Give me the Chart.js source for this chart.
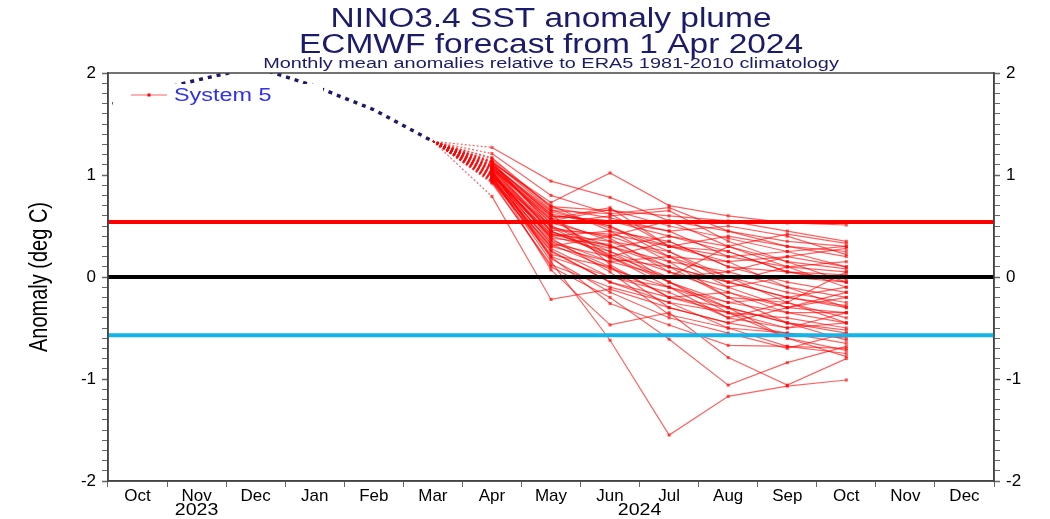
<!DOCTYPE html>
<html>
<head>
<meta charset="utf-8">
<title>NINO3.4 SST anomaly plume</title>
<script src="https://cdn.jsdelivr.net/npm/chart.js@4.4.1/dist/chart.umd.min.js"></script>
<style>
  body { margin: 0; background: #fff; }
  canvas { display: block; }
</style>
</head>
<body>
<canvas id="plume" width="1050" height="519"></canvas>
<script>
"use strict";

// x = month index, 0 = Oct 2023 ... 14 = Dec 2024
const monthLabels = ["Oct", "Nov", "Dec", "Jan", "Feb", "Mar", "Apr", "May", "Jun", "Jul", "Aug", "Sep", "Oct", "Nov", "Dec"];
const yearLabels = ["2023", "2024"];
const yearCentres = [1, 8.5];

const titleLines = ["NINO3.4 SST anomaly plume", "ECMWF forecast from 1 Apr 2024"];
const subTitle = "Monthly mean anomalies relative to ERA5 1981-2010 climatology";
const seriesName = "System 5";

// observed anomalies, Sep 2023 .. Mar 2024
const observedMonths = [-1, 0, 1, 2, 3, 4, 5];
const observedValues = [1.58, 1.78, 1.93, 2.06, 1.87, 1.64, 1.33];

// ensemble members start from the last observed month (Mar) and run Apr .. Oct
const forecastMonths = [5, 6, 7, 8, 9, 10, 11, 12];
const members = [
  [1.27, 0.94, 0.78, 0.55, 0.45, 0.30, 0.25],
  [1.21, 0.80, 0.62, 0.30, 0.20, 0.10, 0.05],
  [0.79, -0.22, -0.12, -0.30, -0.45, -0.55, -0.60],
  [1.12, 0.73, 1.02, 0.70, 0.60, 0.53, 0.51],
  [1.10, 0.65, 0.62, 0.68, 0.45, 0.35, 0.30],
  [1.05, 0.60, 0.55, 0.40, 0.30, 0.42, 0.33],
  [1.08, 0.55, 0.66, 0.50, 0.38, 0.25, 0.10],
  [0.98, 0.50, 0.30, 0.10, -0.05, -0.20, -0.30],
  [1.02, 0.45, 0.20, -0.10, -0.30, -0.45, -0.55],
  [1.13, 0.70, 0.45, 0.35, 0.10, 0.05, -0.05],
  [0.95, 0.35, 0.10, -0.20, -0.35, -0.40, -0.50],
  [1.00, 0.40, 0.25, 0.05, -0.15, -0.30, -0.35],
  [1.07, 0.62, 0.50, 0.20, 0.15, 0.20, 0.28],
  [0.93, 0.25, -0.05, -0.25, -0.50, -0.68, -0.75],
  [1.04, 0.48, 0.40, 0.55, 0.30, 0.10, -0.10],
  [1.16, 0.68, 0.58, 0.45, 0.50, 0.40, 0.22],
  [0.97, 0.30, 0.15, 0.00, 0.05, -0.10, -0.20],
  [1.01, 0.42, 0.35, 0.25, 0.00, -0.15, -0.25],
  [1.09, 0.58, 0.20, -0.05, -0.25, -0.35, -0.45],
  [0.96, 0.20, -0.26, -0.47, -0.67, -0.68, -0.70],
  [1.03, 0.38, 0.05, -0.37, -0.50, -0.55, -0.65],
  [1.11, 0.52, 0.60, 0.65, 0.35, 0.15, 0.08],
  [0.99, 0.15, -0.62, -1.55, -1.17, -1.07, -1.01],
  [1.06, 0.44, 0.30, 0.15, -0.20, -0.45, -0.62],
  [0.94, 0.10, -0.20, -0.61, -1.06, -0.84, -0.68],
  [1.14, 0.66, 0.48, 0.30, 0.25, 0.05, 0.02],
  [1.00, 0.07, -0.47, -0.35, -0.79, -1.06, -0.80],
  [1.08, 0.56, 0.35, 0.10, -0.05, 0.10, 0.15],
  [1.02, 0.36, 0.15, 0.20, 0.00, -0.25, -0.40],
  [0.98, 0.28, 0.00, -0.15, -0.40, -0.50, -0.45],
  [1.05, 0.50, 0.25, -0.05, -0.30, -0.60, -0.72],
  [1.12, 0.60, 0.55, 0.45, 0.20, 0.25, 0.30],
  [0.95, 0.22, 0.10, -0.30, -0.45, -0.30, -0.15],
  [1.17, 0.69, 0.65, 0.60, 0.55, 0.45, 0.35],
  [1.03, 0.46, 0.42, 0.30, 0.40, 0.30, 0.20],
  [0.92, 0.12, -0.10, -0.25, -0.35, -0.60, -0.78],
  [1.07, 0.53, 0.38, 0.05, -0.10, 0.00, -0.05],
  [1.00, 0.33, 0.20, 0.35, 0.10, -0.05, -0.15],
  [1.10, 0.62, 0.12, -0.20, -0.15, -0.35, -0.35],
  [0.97, 0.40, 0.45, 0.15, 0.05, 0.20, 0.10],
  [1.04, 0.18, -0.15, -0.40, -0.55, -0.70, -0.55],
  [1.09, 0.64, 0.50, 0.25, -0.05, -0.20, -0.10],
  [1.01, 0.32, 0.08, -0.10, -0.25, -0.20, -0.28],
  [0.99, 0.42, 0.28, 0.40, 0.25, 0.05, -0.02],
  [1.06, 0.57, 0.68, 0.30, 0.15, -0.10, -0.30],
  [0.96, 0.26, -0.05, -0.20, -0.30, -0.45, -0.52],
  [1.13, 0.49, 0.18, 0.10, -0.20, -0.25, 0.05],
  [1.02, 0.38, 0.32, -0.05, -0.35, -0.50, -0.35],
  [1.05, 0.20, 0.00, -0.10, -0.40, -0.25, -0.45],
  [0.94, 0.30, 0.40, 0.20, -0.10, -0.30, -0.20],
  [1.08, 0.45, 0.22, 0.00, 0.30, 0.15, -0.05]
];

// horizontal reference lines (warm threshold, zero, cold threshold)
const thresholdValues = [0.54, 0, -0.57];
const thresholdColours = ["#ff0000", "#000000", "#12b4ea"];

const yMin = -2;
const yMax = 2;
const xMin = -0.5;
const xMax = 14.5;

const memberColour = "rgba(255, 0, 0, 0.62)";
const navy = "#1b1b6b";
const labelFont = "'Liberation Sans', Arial, sans-serif";

function pairs(xs, ys) {
  return ys.map((y, i) => ({ x: xs[i], y: y }));
}

const datasets = [];

thresholdValues.forEach((v, i) => {
  datasets.push({
    data: [{ x: xMin, y: v }, { x: xMax, y: v }],
    borderColor: thresholdColours[i],
    borderWidth: 4,
    pointRadius: 0,
    order: 0
  });
});

datasets.push({
  data: pairs(observedMonths, observedValues),
  borderColor: navy,
  borderWidth: 3.5,
  borderDash: [4, 5],
  pointRadius: 0,
  clip: 0,
  order: 1
});

members.forEach((m) => {
  datasets.push({
    data: pairs(forecastMonths, [observedValues[observedValues.length - 1]].concat(m)),
    borderColor: memberColour,
    backgroundColor: memberColour,
    borderWidth: 1.2,
    pointStyle: "rect",
    pointRadius: (ctx) => (ctx.dataIndex === 0 ? 0 : 2.2),
    pointBorderWidth: 0,
    segment: {
      borderDash: (ctx) => (ctx.p0DataIndex === 0 ? [2, 2] : undefined)
    },
    order: 2
  });
});

// the reference text is wider than it is tall, so squeeze it out sideways
function drawText(ctx, text, x, y, size, colour, align, sx) {
  ctx.save();
  ctx.font = size + "px " + labelFont;
  ctx.fillStyle = colour;
  ctx.textAlign = align;
  ctx.textBaseline = "middle";
  ctx.translate(x, y);
  ctx.scale(sx, 1);
  ctx.fillText(text, 0, 0);
  ctx.restore();
}

const decorations = {
  id: "decorations",
  afterDraw(chart) {
    const { ctx, chartArea, scales } = chart;
    const midX = (chartArea.left + chartArea.right) / 2;

    // frame
    ctx.save();
    ctx.strokeStyle = "#444";
    ctx.lineWidth = 1.5;
    ctx.strokeRect(chartArea.left, chartArea.top, chartArea.right - chartArea.left, chartArea.bottom - chartArea.top);
    ctx.restore();

    // titles
    drawText(ctx, titleLines[0], midX, 20, 27, navy, "center", 1.24);
    drawText(ctx, titleLines[1], midX, 46, 27, navy, "center", 1.24);
    drawText(ctx, subTitle, midX, 64, 14, navy, "center", 1.42);

    // y axis title
    ctx.save();
    ctx.translate(40, (chartArea.top + chartArea.bottom) / 2);
    ctx.rotate(-Math.PI / 2);
    ctx.scale(1, 1.3);
    ctx.font = "20px " + labelFont;
    ctx.fillStyle = "#000";
    ctx.textAlign = "center";
    ctx.textBaseline = "middle";
    ctx.fillText("Anomaly (deg C)", 0, 0);
    ctx.restore();

    // years under the month labels
    yearLabels.forEach((t, i) => {
      drawText(ctx, t, scales.x.getPixelForValue(yearCentres[i]), 510, 17, "#000", "center", 1.15);
    });

    // legend: white box hides the observed line behind it
    const lx = chartArea.left + 23;
    const ly = chartArea.top + 22;
    ctx.save();
    ctx.fillStyle = "#fff";
    ctx.fillRect(chartArea.left + 5, ly - 11, 210, 22);
    ctx.strokeStyle = memberColour;
    ctx.lineWidth = 1;
    ctx.beginPath();
    ctx.moveTo(lx, ly);
    ctx.lineTo(lx + 36, ly);
    ctx.stroke();
    ctx.fillStyle = "#ff0000";
    ctx.fillRect(lx + 16.5, ly - 1.5, 3, 3);
    ctx.restore();
    drawText(ctx, seriesName, lx + 43, ly + 1, 18, "#3030f0", "left", 1.3);
  }
};

const yTicks = {
  stepSize: 0.1,
  autoSkip: false,
  maxTicksLimit: 100,
  color: "#000",
  font: { family: labelFont, size: 17 },
  padding: 6,
  callback: (v) => (Math.abs(v - Math.round(v)) < 1e-6 ? String(Math.round(v)) : "")
};

const yGrid = {
  drawOnChartArea: false,
  tickLength: 6,
  color: "#666",
  tickWidth: (ctx) => (ctx.tick && Math.abs(ctx.tick.value - Math.round(ctx.tick.value)) < 1e-6 ? 1.5 : 1)
};

new Chart(document.getElementById("plume"), {
  type: "line",
  data: { datasets: datasets },
  options: {
    responsive: false,
    animation: false,
    devicePixelRatio: 1,
    layout: { padding: { top: 73, left: 0, right: 0, bottom: 0 } },
    plugins: {
      legend: { display: false },
      title: { display: false },
      tooltip: { enabled: false }
    },
    scales: {
      x: {
        type: "linear",
        position: "bottom",
        min: xMin,
        max: xMax,
        afterBuildTicks: (scale) => {
          scale.ticks = monthLabels.map((_, i) => ({ value: i }));
        },
        afterFit: (scale) => {
          scale.height = 38;
        },
        ticks: {
          autoSkip: false,
          maxRotation: 0,
          padding: -1,
          color: "#000",
          font: { family: labelFont, size: 17 },
          callback: (v) => monthLabels[v]
        },
        grid: { offset: true, drawOnChartArea: false, tickLength: 6, color: "#666" },
        border: { color: "#444", width: 1.5 }
      },
      y: {
        position: "left",
        min: yMin,
        max: yMax,
        afterFit: (scale) => {
          scale.width = 108;
        },
        ticks: yTicks,
        grid: yGrid,
        border: { color: "#444", width: 1.5 }
      },
      y2: {
        position: "right",
        min: yMin,
        max: yMax,
        afterFit: (scale) => {
          scale.width = 56;
        },
        ticks: yTicks,
        grid: yGrid,
        border: { color: "#444", width: 1.5 }
      }
    }
  },
  plugins: [decorations]
});
</script>
</body>
</html>
